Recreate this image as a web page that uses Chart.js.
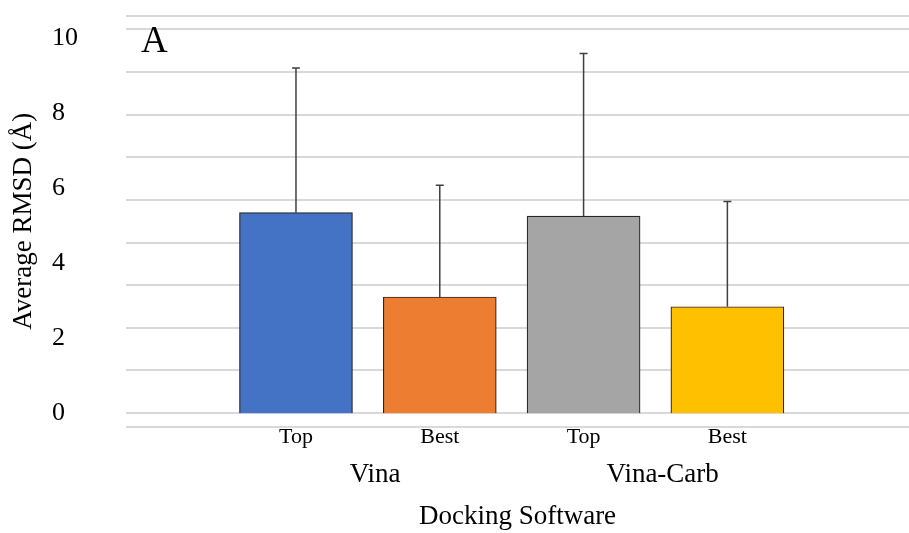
<!DOCTYPE html>
<html>
<head>
<meta charset="utf-8">
<script src="https://cdn.jsdelivr.net/npm/chart.js@4.4.1/dist/chart.umd.min.js"></script>
<style>
  body { margin: 0; background: #fff; }
  canvas { display: block; }
</style>
</head>
<body>
<canvas id="rmsdChart" width="909" height="533"></canvas>
<script>
var categories = ['Top', 'Best', 'Top', 'Best']
var groups = ['Vina', 'Vina-Carb']
var means = [5.35, 3.10, 5.26, 2.84]
var sds = [3.86, 2.98, 4.34, 2.81]
var yTicks = [0, 2, 4, 6, 8, 10]
var barColors = ['#4472C4', '#ED7D31', '#A5A5A5', '#FFC000']

var serif = '"Liberation Serif", "Times New Roman", serif'

var barData = means.map(function (m, i) {
  return { x: i + 1, y: m }
})
// two bars per group, group label sits under the middle of its pair
var groupCenters = groups.map(function (g, i) {
  return 2 * i + 1.5 + 0.05
})

// plus-only error bars, Excel style
var errorBars = {
  id: 'errorBars',
  afterDatasetsDraw: function (chart) {
    var ctx = chart.ctx
    var yScale = chart.scales.y
    var bars = chart.getDatasetMeta(0).data
    ctx.save()
    ctx.strokeStyle = '#404040'
    ctx.lineWidth = 1.5
    bars.forEach(function (bar, i) {
      var top = yScale.getPixelForValue(means[i] + sds[i])
      ctx.beginPath()
      ctx.moveTo(bar.x, bar.y)
      ctx.lineTo(bar.x, top)
      ctx.moveTo(bar.x - 4, top)
      ctx.lineTo(bar.x + 4, top)
      ctx.stroke()
    })
    ctx.restore()
  }
}

var panelLabel = {
  id: 'panelLabel',
  afterDraw: function (chart) {
    var ctx = chart.ctx
    ctx.save()
    ctx.fillStyle = '#000'
    ctx.font = '37px ' + serif
    ctx.textBaseline = 'alphabetic'
    ctx.fillText('A', chart.chartArea.left + 15, 52)
    ctx.restore()
  }
}

var ctx = document.getElementById('rmsdChart').getContext('2d')

var rmsdChart = new Chart(ctx, {
  type: 'bar',
  data: {
    datasets: [
      {
        data: barData,
        backgroundColor: barColors,
        borderColor: '#262626',
        borderWidth: 1.2,
        barThickness: 113
      }
    ]
  },
  options: {
    responsive: false,
    animation: false,
    devicePixelRatio: 1,
    layout: { padding: { top: 12, left: 0, right: 0, bottom: 0 } },
    plugins: {
      legend: { display: false },
      tooltip: { enabled: false }
    },
    scales: {
      x: {
        type: 'linear',
        position: 'bottom',
        weight: 1,
        offset: false,
        min: -0.182,
        max: 5.263,
        grid: { display: false, drawTicks: false, offset: false },
        border: { display: false },
        ticks: {
          color: '#000',
          padding: 3,
          maxRotation: 0,
          autoSkip: false,
          font: { family: serif, size: 22, lineHeight: 0.7 },
          callback: function (value) {
            return categories[value - 1]
          }
        },
        afterBuildTicks: function (scale) {
          scale.ticks = categories.map(function (c, i) {
            return { value: i + 1 }
          })
        },
        afterFit: function (scale) {
          scale.height = 30
        }
      },
      x2: {
        type: 'linear',
        position: 'bottom',
        weight: 2,
        offset: false,
        min: -0.182,
        max: 5.263,
        grid: { display: false, drawTicks: false, offset: false },
        border: { display: false },
        ticks: {
          color: '#000',
          padding: 4,
          maxRotation: 0,
          autoSkip: false,
          font: { family: serif, size: 27, lineHeight: 1 },
          callback: function (value, index) {
            return groups[index]
          }
        },
        title: {
          display: true,
          text: 'Docking Software',
          color: '#000',
          font: { family: serif, size: 27 },
          padding: { top: 0, bottom: 0 }
        },
        afterBuildTicks: function (scale) {
          scale.ticks = groupCenters.map(function (v) {
            return { value: v }
          })
        },
        afterFit: function (scale) {
          scale.height = 76
        }
      },
      y: {
        position: 'left',
        weight: 1,
        min: -0.37,
        max: 10.61,
        grid: { display: false, drawTicks: false },
        border: { display: false },
        ticks: {
          color: '#000',
          padding: 0,
          crossAlign: 'far',
          font: { family: serif, size: 26 }
        },
        afterBuildTicks: function (scale) {
          scale.ticks = yTicks.map(function (v) {
            return { value: v }
          })
        },
        afterFit: function (scale) {
          scale.width = 74
        }
      },
      yGrid: {
        position: 'left',
        weight: 0,
        min: -0.3256,
        max: 9.3256,
        grid: { color: '#d9d9d9', lineWidth: 2, drawTicks: false },
        border: { display: false },
        ticks: { display: false },
        afterBuildTicks: function (scale) {
          var t = [{ value: scale.min }]
          for (var k = 0; k <= 9; k++) t.push({ value: k })
          t.push({ value: scale.max })
          scale.ticks = t
        },
        afterFit: function (scale) {
          scale.width = 0
        }
      },
      yTitle: {
        position: 'left',
        weight: 2,
        grid: { display: false, drawTicks: false },
        border: { display: false },
        ticks: { display: false },
        title: {
          display: true,
          text: 'Average RMSD (Å)',
          color: '#000',
          font: { family: serif, size: 27 },
          padding: { top: 8, bottom: 0 }
        },
        afterFit: function (scale) {
          scale.width = 52
        }
      }
    }
  },
  plugins: [errorBars, panelLabel]
})
</script>
</body>
</html>
